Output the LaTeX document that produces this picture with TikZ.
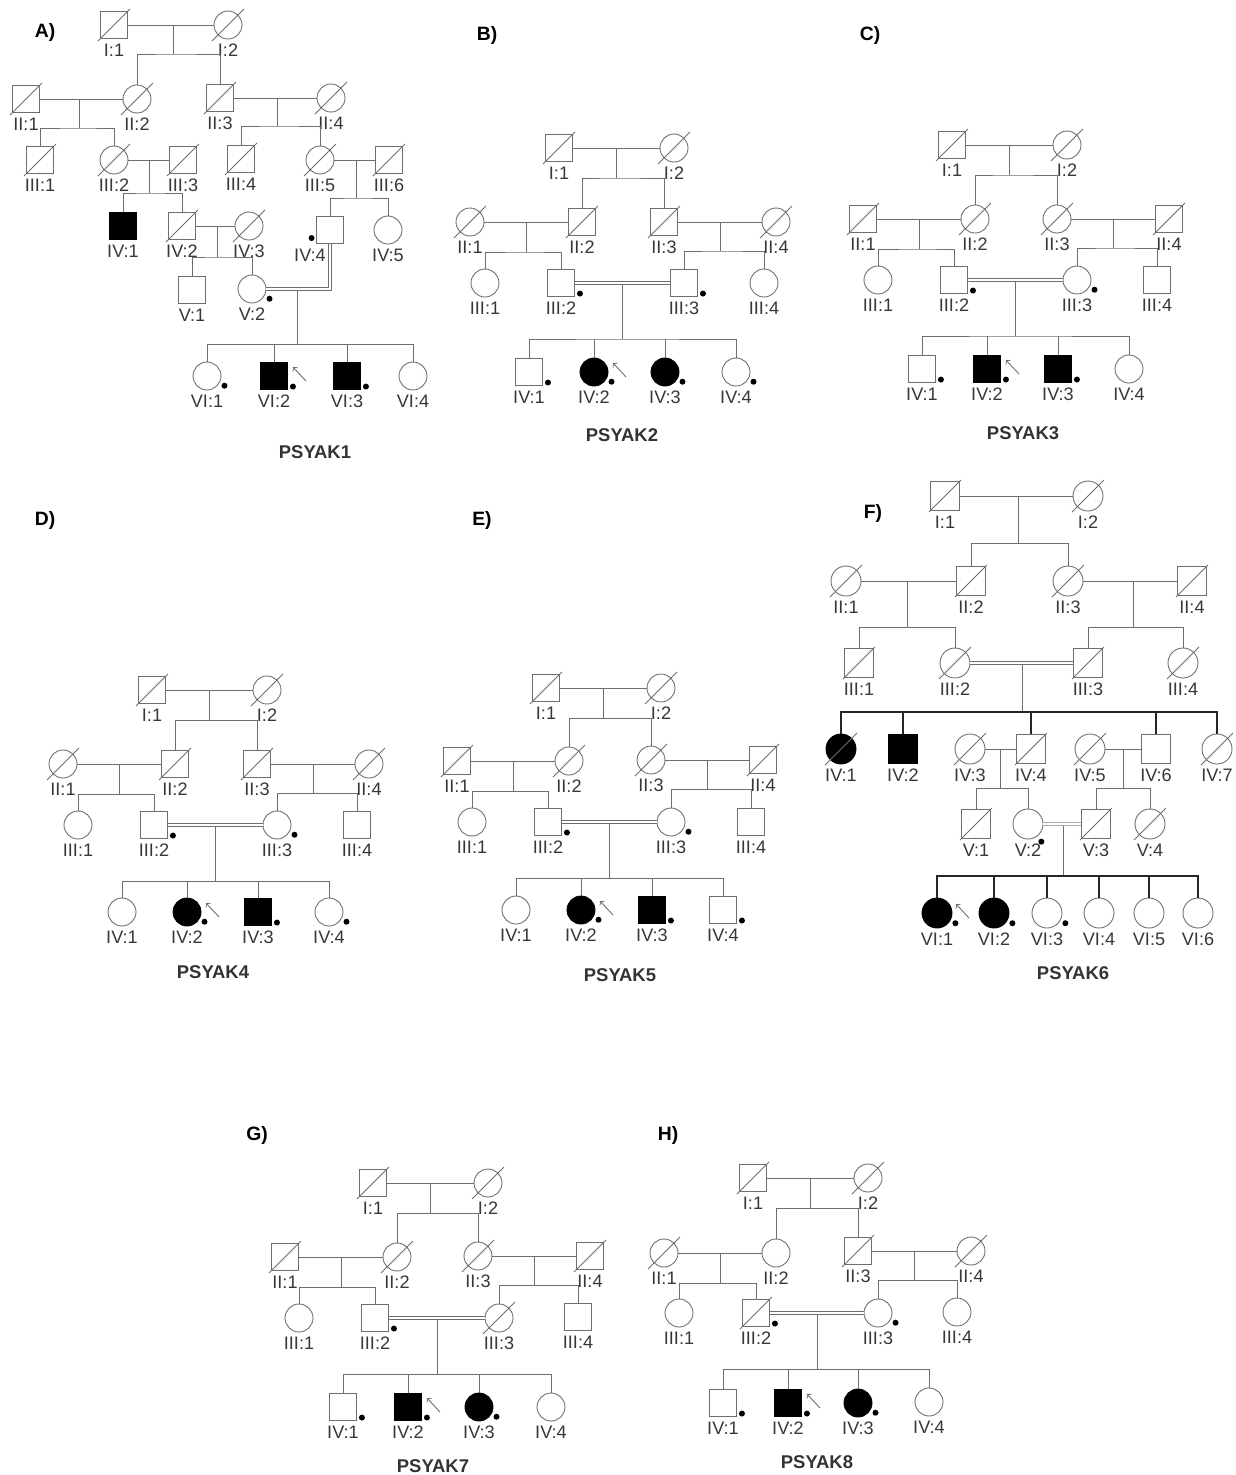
\documentclass[tikz,border=0pt]{standalone}
\usepackage{fontspec}
\setmainfont{Liberation Sans}
\usetikzlibrary{calc}
\definecolor{lc}{RGB}{110,110,110}
\definecolor{tc}{RGB}{55,55,55}

\tikzset{
  x=0.02cm, y=-0.02cm,
  link/.style={draw=lc, line width=0.5pt},
  sibk/.style={draw=black!85, line width=0.9pt},
  cons/.style={draw=lc, line width=0.5pt, double=white, double distance=1pt},
  male/.style={draw=lc, line width=0.5pt, rectangle, minimum size=0.54cm, inner sep=0pt},
  female/.style={draw=lc, line width=0.5pt, circle, minimum size=0.56cm, inner sep=0pt},
  aff/.style={fill=black, draw=black},
  slash/.style={draw=lc, line width=0.5pt},
  dead/.style={append after command={([shift={(-16,16)}]\tikzlastnode.center) edge[slash] ([shift={(16,-16)}]\tikzlastnode.center)}},
  probe/.style={draw=lc, line width=0.5pt, ->},
  proband/.style={append after command={([shift={(32,5)}]\tikzlastnode.center) edge[probe] ([shift={(19,-9)}]\tikzlastnode.center)}},
  dotmark/.style={circle, fill=black, inner sep=0pt, minimum size=0.12cm, anchor=center},
  carrier/.style={label={[dotmark,xshift=0.1cm,yshift=-0.05cm]-30:{}}},
  lbl/.style={font=\fontsize{10.3}{12}\selectfont, text=tc, inner sep=1pt, yshift=-1.5pt},
  lb/.style={label={[lbl]below:{#1}}},
  lbx/.style n args={2}{label={[lbl,xshift=#1]below:{#2}}},
  title/.style={font=\bfseries\fontsize{10.5}{12}\selectfont, text=black!80},
  tag/.style={font=\bfseries\fontsize{11}{13}\selectfont}
}

% connectors of a four-generation pedigree (prefix #1)
\newcommand{\stdlinks}[1]{%
  \path ($(#1-I1)!0.5!(#1-I2)$) coordinate (#1-m1) ++(0,30) coordinate (#1-s1);
  \path ($(#1-II1)!0.5!(#1-II2)$) coordinate (#1-m2) ++(0,30) coordinate (#1-s2);
  \path ($(#1-II3)!0.5!(#1-II4)$) coordinate (#1-m3) ++(0,29) coordinate (#1-s3);
  \path ($(#1-III2)!0.5!(#1-III3)$) coordinate (#1-m4) ++(0,56) coordinate (#1-s4);
  \draw[link] (#1-m1) -- (#1-s1);
  \draw[link] (#1-m2) -- (#1-s2);
  \draw[link] (#1-m3) -- (#1-s3);
  \draw[link] (#1-m4) -- (#1-s4);
  \draw[link] (#1-II2) |- (#1-s1) -| (#1-II3);
  \draw[link] (#1-III1) |- (#1-s2) -| (#1-III2);
  \draw[link] (#1-III3) |- (#1-s3) -| (#1-III4);
  \draw[link] (#1-IV1) |- (#1-s4) -| (#1-IV4);
  \draw[link] (#1-IV2) -- (#1-IV2 |- #1-s4);
  \draw[link] (#1-IV3) -- (#1-IV3 |- #1-s4);
  \draw[link] (#1-I1) -- (#1-I2);
  \draw[link] (#1-II1) -- (#1-II2);
  \draw[link] (#1-II3) -- (#1-II4);
  \draw[cons] (#1-III2) -- (#1-III3);
}

\begin{document}
\begin{tikzpicture}
\fill[white] (0,0) rectangle (1236,1475);
\useasboundingbox (0,0) rectangle (1236,1475);

% ---------------- A) PSYAK1
\node[tag] (A-tag) at (45,32) {A)};
\node[male,dead,lb={I:1}] (A-I1) at (114,25) {};
\node[female,dead,lb={I:2}] (A-I2) at (228,25) {};
\node[male,dead,lb={II:1}] (A-II1) at (26,99) {};
\node[female,dead,lb={II:2}] (A-II2) at (137,99) {};
\node[male,dead,lb={II:3}] (A-II3) at (220,98) {};
\node[female,dead,lb={II:4}] (A-II4) at (331,98) {};
\node[male,dead,lb={III:1}] (A-III1) at (40,160) {};
\node[female,dead,lb={III:2}] (A-III2) at (114,160) {};
\node[male,dead,lb={III:3}] (A-III3) at (183,160) {};
\node[male,dead,lb={III:4}] (A-III4) at (241,159) {};
\node[female,dead,lb={III:5}] (A-III5) at (320,160) {};
\node[male,dead,lb={III:6}] (A-III6) at (389,160) {};
\node[male,aff,lb={IV:1}] (A-IV1) at (123,226) {};
\node[male,dead,lb={IV:2}] (A-IV2) at (182,226) {};
\node[female,dead,lb={IV:3}] (A-IV3) at (249,226) {};
\node[male,label={[dotmark,xshift=-0.09cm]-150:{}},lbx={-0.4cm}{IV:4}] (A-IV4) at (330,230) {};
\node[female,lb={IV:5}] (A-IV5) at (388,230) {};
\node[male,lb={V:1}] (A-V1) at (192,290) {};
\node[female,carrier,lb={V:2}] (A-V2) at (252,289) {};
\node[female,carrier,lb={VI:1}] (A-VI1) at (207,376) {};
\node[male,aff,proband,carrier,lb={VI:2}] (A-VI2) at (274,376) {};
\node[male,aff,carrier,lb={VI:3}] (A-VI3) at (347,376) {};
\node[female,lb={VI:4}] (A-VI4) at (413,376) {};
\node[title] (A-name) at (315,452) {PSYAK1};

\coordinate (A-m1) at (173,25);  \coordinate (A-s1) at (173,54);
\coordinate (A-m2) at (79,99);   \coordinate (A-s2) at (79,128);
\coordinate (A-m3) at (277,98);  \coordinate (A-s3) at (277,126);
\coordinate (A-m4) at (149,160); \coordinate (A-s4) at (149,193);
\coordinate (A-m5) at (356,160); \coordinate (A-s5) at (356,198);
\coordinate (A-m6) at (217,226); \coordinate (A-s6) at (217,257);
\coordinate (A-m7) at (297,289); \coordinate (A-s7) at (297,344);
\draw[link] (A-m1) -- (A-s1);
\draw[link] (A-m2) -- (A-s2);
\draw[link] (A-m3) -- (A-s3);
\draw[link] (A-m4) -- (A-s4);
\draw[link] (A-m5) -- (A-s5);
\draw[link] (A-m6) -- (A-s6);
\draw[link] (A-m7) -- (A-s7);
\draw[link] (A-II2) |- (A-s1) -| (A-II3);
\draw[link] (A-III1) |- (A-s2) -| (A-III2);
\draw[link] (A-III4) |- (A-s3) -| (A-III5);
\draw[link] (A-IV1) |- (A-s4) -| (A-IV2);
\draw[link] (A-IV4) |- (A-s5) -| (A-IV5);
\draw[link] (A-V1) |- (A-s6) -| (A-V2);
\draw[link] (A-VI1) |- (A-s7) -| (A-VI4);
\draw[link] (A-VI2) -- (A-VI2 |- A-s7);
\draw[link] (A-VI3) -- (A-VI3 |- A-s7);
\draw[link] (A-I1) -- (A-I2);
\draw[link] (A-II1) -- (A-II2);
\draw[link] (A-II3) -- (A-II4);
\draw[link] (A-III2) -- (A-III3);
\draw[link] (A-III5) -- (A-III6);
\draw[link] (A-IV2) -- (A-IV3);
\draw[cons] (A-V2) -| (A-IV4);

% ---------------- B) PSYAK2
\node[tag] (B-tag) at (487,35) {B)};
\begin{scope}[shift={(559,148)}]
\node[male,dead,lb={I:1}] (B-I1) at (0,0) {};
\node[female,dead,lb={I:2}] (B-I2) at (115,0) {};
\node[female,dead,lb={II:1}] (B-II1) at (-89,74) {};
\node[male,dead,lb={II:2}] (B-II2) at (23,74) {};
\node[male,dead,lb={II:3}] (B-II3) at (105,74) {};
\node[female,dead,lb={II:4}] (B-II4) at (217,74) {};
\node[female,lb={III:1}] (B-III1) at (-74,135) {};
\node[male,carrier,lb={III:2}] (B-III2) at (2,135) {};
\node[male,carrier,lb={III:3}] (B-III3) at (125,135) {};
\node[female,lb={III:4}] (B-III4) at (205,135) {};
\node[male,carrier,lb={IV:1}] (B-IV1) at (-30,224) {};
\node[female,aff,proband,carrier,lb={IV:2}] (B-IV2) at (35,224) {};
\node[female,aff,carrier,lb={IV:3}] (B-IV3) at (106,224) {};
\node[female,carrier,lb={IV:4}] (B-IV4) at (177,224) {};
\end{scope}
\node[title] (B-name) at (622,435) {PSYAK2};
\stdlinks{B}

% ---------------- C) PSYAK3
\node[tag] (C-tag) at (870,35) {C)};
\begin{scope}[shift={(952,145)}]
\node[male,dead,lb={I:1}] (C-I1) at (0,0) {};
\node[female,dead,lb={I:2}] (C-I2) at (115,0) {};
\node[male,dead,lb={II:1}] (C-II1) at (-89,74) {};
\node[female,dead,lb={II:2}] (C-II2) at (23,74) {};
\node[female,dead,lb={II:3}] (C-II3) at (105,74) {};
\node[male,dead,lb={II:4}] (C-II4) at (217,74) {};
\node[female,lb={III:1}] (C-III1) at (-74,135) {};
\node[male,carrier,lb={III:2}] (C-III2) at (2,135) {};
\node[female,carrier,lb={III:3}] (C-III3) at (125,135) {};
\node[male,lb={III:4}] (C-III4) at (205,135) {};
\node[male,carrier,lb={IV:1}] (C-IV1) at (-30,224) {};
\node[male,aff,proband,carrier,lb={IV:2}] (C-IV2) at (35,224) {};
\node[male,aff,carrier,lb={IV:3}] (C-IV3) at (106,224) {};
\node[female,lb={IV:4}] (C-IV4) at (177,224) {};
\end{scope}
\node[title] (C-name) at (1023,433) {PSYAK3};
\stdlinks{C}

% ---------------- D) PSYAK4
\node[tag] (D-tag) at (45,520) {D)};
\begin{scope}[shift={(152,690)}]
\node[male,dead,lb={I:1}] (D-I1) at (0,0) {};
\node[female,dead,lb={I:2}] (D-I2) at (115,0) {};
\node[female,dead,lb={II:1}] (D-II1) at (-89,74) {};
\node[male,dead,lb={II:2}] (D-II2) at (23,74) {};
\node[male,dead,lb={II:3}] (D-II3) at (105,74) {};
\node[female,dead,lb={II:4}] (D-II4) at (217,74) {};
\node[female,lb={III:1}] (D-III1) at (-74,135) {};
\node[male,carrier,lb={III:2}] (D-III2) at (2,135) {};
\node[female,carrier,lb={III:3}] (D-III3) at (125,135) {};
\node[male,lb={III:4}] (D-III4) at (205,135) {};
\node[female,lb={IV:1}] (D-IV1) at (-30,222) {};
\node[female,aff,proband,carrier,lb={IV:2}] (D-IV2) at (35,222) {};
\node[male,aff,carrier,lb={IV:3}] (D-IV3) at (106,222) {};
\node[female,carrier,lb={IV:4}] (D-IV4) at (177,222) {};
\end{scope}
\node[title] (D-name) at (213,972) {PSYAK4};
\stdlinks{D}

% ---------------- E) PSYAK5
\node[tag] (E-tag) at (482,520) {E)};
\begin{scope}[shift={(546,688)}]
\node[male,dead,lb={I:1}] (E-I1) at (0,0) {};
\node[female,dead,lb={I:2}] (E-I2) at (115,0) {};
\node[male,dead,lb={II:1}] (E-II1) at (-89,73) {};
\node[female,dead,lb={II:2}] (E-II2) at (23,73) {};
\node[female,dead,lb={II:3}] (E-II3) at (105,72) {};
\node[male,dead,lb={II:4}] (E-II4) at (217,72) {};
\node[female,lb={III:1}] (E-III1) at (-74,134) {};
\node[male,carrier,lb={III:2}] (E-III2) at (2,134) {};
\node[female,carrier,lb={III:3}] (E-III3) at (125,134) {};
\node[male,lb={III:4}] (E-III4) at (205,134) {};
\node[female,lb={IV:1}] (E-IV1) at (-30,222) {};
\node[female,aff,proband,carrier,lb={IV:2}] (E-IV2) at (35,222) {};
\node[male,aff,carrier,lb={IV:3}] (E-IV3) at (106,222) {};
\node[male,carrier,lb={IV:4}] (E-IV4) at (177,222) {};
\end{scope}
\node[title] (E-name) at (620,975) {PSYAK5};
\stdlinks{E}

% ---------------- F) PSYAK6
\node[tag] (F-tag) at (873,513) {F)};
\begin{scope}[male/.append style={minimum size=0.58cm}, female/.append style={minimum size=0.6cm}]
\node[male,dead,lb={I:1}] (F-I1) at (945,496) {};
\node[female,dead,lb={I:2}] (F-I2) at (1088,496) {};
\node[female,dead,lb={II:1}] (F-II1) at (846,581) {};
\node[male,dead,lb={II:2}] (F-II2) at (971,581) {};
\node[female,dead,lb={II:3}] (F-II3) at (1068,581) {};
\node[male,dead,lb={II:4}] (F-II4) at (1192,581) {};
\node[male,dead,lb={III:1}] (F-III1) at (859,663) {};
\node[female,dead,lb={III:2}] (F-III2) at (955,663) {};
\node[male,dead,lb={III:3}] (F-III3) at (1088,663) {};
\node[female,dead,lb={III:4}] (F-III4) at (1183,663) {};
\node[female,aff,dead,lb={IV:1}] (F-IV1) at (841,749) {};
\node[male,aff,lb={IV:2}] (F-IV2) at (903,749) {};
\node[female,dead,lb={IV:3}] (F-IV3) at (970,749) {};
\node[male,dead,lb={IV:4}] (F-IV4) at (1031,749) {};
\node[female,dead,lb={IV:5}] (F-IV5) at (1090,749) {};
\node[male,lb={IV:6}] (F-IV6) at (1156,749) {};
\node[female,dead,lb={IV:7}] (F-IV7) at (1217,749) {};
\node[male,dead,lb={V:1}] (F-V1) at (976,824) {};
\node[female,label={[dotmark,xshift=0.09cm,yshift=-0.1cm]-55:{}},lb={V:2}] (F-V2) at (1028,824) {};
\node[male,dead,lb={V:3}] (F-V3) at (1096,824) {};
\node[female,dead,lb={V:4}] (F-V4) at (1150,824) {};
\node[female,aff,proband,carrier,lb={VI:1}] (F-VI1) at (937,913) {};
\node[female,aff,carrier,lb={VI:2}] (F-VI2) at (994,913) {};
\node[female,carrier,lb={VI:3}] (F-VI3) at (1047,913) {};
\node[female,lb={VI:4}] (F-VI4) at (1099,913) {};
\node[female,lb={VI:5}] (F-VI5) at (1149,913) {};
\node[female,lb={VI:6}] (F-VI6) at (1198,913) {};
\end{scope}
\node[title] (F-name) at (1073,973) {PSYAK6};

\coordinate (F-m1) at (1018,496); \coordinate (F-s1) at (1018,543);
\coordinate (F-m2) at (907,581);  \coordinate (F-s2) at (907,627);
\coordinate (F-m3) at (1133,581); \coordinate (F-s3) at (1133,627);
\coordinate (F-m4) at (1022,663); \coordinate (F-s4) at (1022,712);
\coordinate (F-m5) at (1000,749); \coordinate (F-s5) at (1000,788);
\coordinate (F-m6) at (1123,749); \coordinate (F-s6) at (1123,788);
\coordinate (F-m7) at (1063,824); \coordinate (F-s7) at (1063,876);
\draw[link] (F-m1) -- (F-s1);
\draw[link] (F-m2) -- (F-s2);
\draw[link] (F-m3) -- (F-s3);
\draw[link] (F-m4) -- (F-s4);
\draw[link] (F-m5) -- (F-s5);
\draw[link] (F-m6) -- (F-s6);
\draw[link] (F-m7) -- (F-s7);
\draw[link] (F-II2) |- (F-s1) -| (F-II3);
\draw[link] (F-III1) |- (F-s2) -| (F-III2);
\draw[link] (F-III3) |- (F-s3) -| (F-III4);
\draw[sibk] (F-IV1) |- (F-s4) -| (F-IV7);
\draw[sibk] (F-IV2) -- (F-IV2 |- F-s4);
\draw[sibk] (F-IV4) -- (F-IV4 |- F-s4);
\draw[sibk] (F-IV6) -- (F-IV6 |- F-s4);
\draw[link] (F-V1) |- (F-s5) -| (F-V2);
\draw[link] (F-V3) |- (F-s6) -| (F-V4);
\draw[sibk] (F-VI1) |- (F-s7) -| (F-VI6);
\draw[sibk] (F-VI2) -- (F-VI2 |- F-s7);
\draw[sibk] (F-VI3) -- (F-VI3 |- F-s7);
\draw[sibk] (F-VI4) -- (F-VI4 |- F-s7);
\draw[sibk] (F-VI5) -- (F-VI5 |- F-s7);
\draw[link] (F-I1) -- (F-I2);
\draw[link] (F-II1) -- (F-II2);
\draw[link] (F-II3) -- (F-II4);
\draw[cons] (F-III2) -- (F-III3);
\draw[link] (F-IV3) -- (F-IV4);
\draw[link] (F-IV5) -- (F-IV6);
\draw[cons,draw=lc!60] (F-V2) -- (F-V3);

% ---------------- G) PSYAK7
\node[tag] (G-tag) at (257,1135) {G)};
\begin{scope}[shift={(373,1183)}]
\node[male,dead,lb={I:1}] (G-I1) at (0,0) {};
\node[female,dead,lb={I:2}] (G-I2) at (115,0) {};
\node[male,dead,lb={II:1}] (G-II1) at (-88,74) {};
\node[female,dead,lb={II:2}] (G-II2) at (24,74) {};
\node[female,dead,lb={II:3}] (G-II3) at (105,73) {};
\node[male,dead,lb={II:4}] (G-II4) at (217,73) {};
\node[female,lb={III:1}] (G-III1) at (-74,135) {};
\node[male,carrier,lb={III:2}] (G-III2) at (2,135) {};
\node[female,dead,lb={III:3}] (G-III3) at (126,135) {};
\node[male,lb={III:4}] (G-III4) at (205,134) {};
\node[male,carrier,lb={IV:1}] (G-IV1) at (-30,224) {};
\node[male,aff,proband,carrier,lb={IV:2}] (G-IV2) at (35,224) {};
\node[female,aff,carrier,lb={IV:3}] (G-IV3) at (106,224) {};
\node[female,lb={IV:4}] (G-IV4) at (178,224) {};
\end{scope}
\node[title] (G-name) at (433,1466) {PSYAK7};
\stdlinks{G}

% ---------------- H) PSYAK8
\node[tag] (H-tag) at (668,1135) {H)};
\begin{scope}[shift={(753,1178)}]
\node[male,dead,lb={I:1}] (H-I1) at (0,0) {};
\node[female,dead,lb={I:2}] (H-I2) at (115,0) {};
\node[female,dead,lb={II:1}] (H-II1) at (-89,75) {};
\node[female,lb={II:2}] (H-II2) at (23,75) {};
\node[male,dead,lb={II:3}] (H-II3) at (105,73) {};
\node[female,dead,lb={II:4}] (H-II4) at (218,73) {};
\node[female,lb={III:1}] (H-III1) at (-74,135) {};
\node[male,dead,carrier,lb={III:2}] (H-III2) at (3,135) {};
\node[female,carrier,lb={III:3}] (H-III3) at (125,135) {};
\node[female,lb={III:4}] (H-III4) at (204,134) {};
\node[male,carrier,lb={IV:1}] (H-IV1) at (-30,225) {};
\node[male,aff,proband,carrier,lb={IV:2}] (H-IV2) at (35,225) {};
\node[female,aff,carrier,lb={IV:3}] (H-IV3) at (105,225) {};
\node[female,lb={IV:4}] (H-IV4) at (176,224) {};
\end{scope}
\node[title] (H-name) at (817,1462) {PSYAK8};
\stdlinks{H}
\end{tikzpicture}
\end{document}
